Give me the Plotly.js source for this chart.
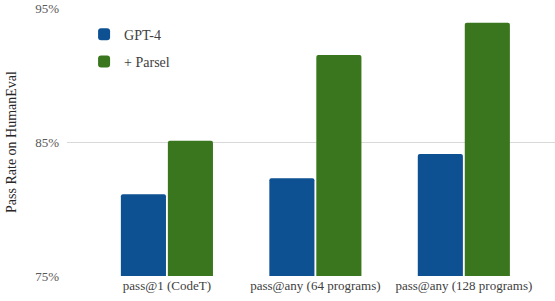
<!DOCTYPE html>
<html><head><meta charset="utf-8">
<script src="https://cdn.plot.ly/plotly-3.0.1.min.js"></script>
<style>html,body{margin:0;padding:0;background:#fff}#chart{width:555px;height:301px}</style>
</head><body><div id="chart"></div>
<script>
const categories = ["pass@1 (CodeT)", "pass@any (64 programs)", "pass@any (128 programs)"];
const seriesNames = ["GPT-4", "+ Parsel"];
const gpt4 = [81.1, 82.3, 84.1];
const parsel = [85.1, 91.5, 93.9];
const yTicks = [75, 85, 95];
const yTickLabels = ["75%", "85%", "95%"];

const serif = "Liberation Serif, Times New Roman, serif";
const traces = [
  {type:"bar", name:seriesNames[0], x:categories, y:gpt4, legendgroup:"a",
   marker:{color:"#0e5193", cornerradius:2, line:{width:0}}, hoverinfo:"none"},
  {type:"bar", name:seriesNames[1], x:categories, y:parsel, legendgroup:"b",
   marker:{color:"#3a761e", cornerradius:2, line:{width:0}}, hoverinfo:"none"}
];
const layout = {
  width:555, height:301,
  margin:{l:67, r:0, t:8, b:25, pad:0},
  paper_bgcolor:"#fff", plot_bgcolor:"#fff",
  barmode:"group", bargap:0.367, bargroupgap:0.04,
  font:{family:serif, color:"#595959", size:13},
  showlegend:true,
  legend:{x:0.035, y:0.96, xanchor:"left", yanchor:"top", bgcolor:"rgba(0,0,0,0)",
    font:{family:serif, size:14, color:"#404040"}, traceorder:"grouped", tracegroupgap:6},
  xaxis:{type:"category", range:[-0.673, 2.614], showgrid:false, showline:false, zeroline:false,
    ticks:"", tickfont:{family:serif, size:13, color:"#404040"}, fixedrange:true},
  yaxis:{range:[75,95], tickvals:yTicks, ticktext:yTickLabels, showgrid:true, gridcolor:"#d9d9d9",
    gridwidth:1, zeroline:false, showline:false, ticks:"", ticklen:0, ticklabelstandoff:7,
    tickfont:{family:serif, size:13, color:"#595959"},
    title:{text:"Pass Rate on HumanEval", font:{family:serif, size:14, color:"#262626"}, standoff:15},
    fixedrange:true}
};
Plotly.newPlot("chart", traces, layout, {displayModeBar:false, staticPlot:true});
</script></body></html>
